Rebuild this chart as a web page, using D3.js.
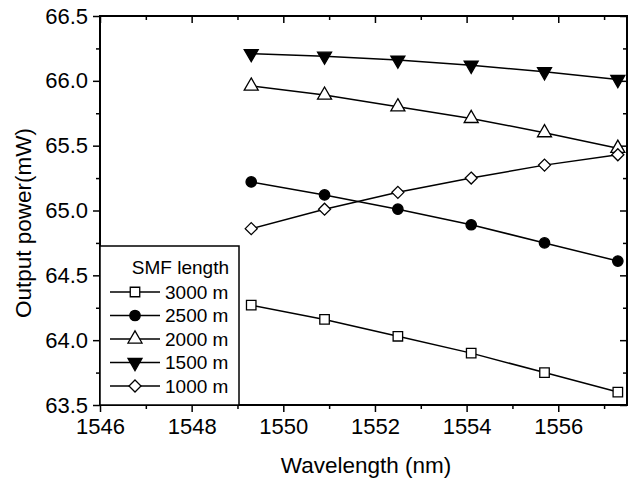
<!DOCTYPE html>
<html>
<head>
<meta charset="utf-8">
<script src="https://cdn.jsdelivr.net/npm/d3@7"></script>
<style>
  body { margin: 0; background: #fff; }
  text { font-family: "Liberation Sans", Arial, sans-serif; fill: #000; }
</style>
</head>
<body>
<svg id="chart" width="629" height="483"></svg>
<script>
// Data
const wavelengths = [1549.3, 1550.9, 1552.5, 1554.1, 1555.7, 1557.3];
const seriesNames = ["3000 m", "2500 m", "2000 m", "1500 m", "1000 m"];
const power3000 = [64.27, 64.16, 64.03, 63.90, 63.75, 63.60];
const power2500 = [65.22, 65.12, 65.01, 64.89, 64.75, 64.61];
const power2000 = [65.96, 65.89, 65.80, 65.71, 65.60, 65.48];
const power1500 = [66.21, 66.19, 66.16, 66.12, 66.07, 66.01];
const power1000 = [64.86, 65.01, 65.14, 65.25, 65.35, 65.43];
const xTicks = [1546, 1548, 1550, 1552, 1554, 1556];
const yTicks = [63.5, 64.0, 64.5, 65.0, 65.5, 66.0, 66.5];

// square turned 45 degrees, as wide as it is tall
const symbolRhomb = {
    draw(ctx, size) {
        const r = Math.sqrt(size / 2);
        ctx.moveTo(0, -r);
        ctx.lineTo(r, 0);
        ctx.lineTo(0, r);
        ctx.lineTo(-r, 0);
        ctx.closePath();
    }
};

const series = [
    {name: seriesNames[0], values: power3000, symbol: d3.symbolSquare, size: 90, fill: "#fff"},
    {name: seriesNames[1], values: power2500, symbol: d3.symbolCircle, size: 85, fill: "#000"},
    {name: seriesNames[2], values: power2000, symbol: d3.symbolTriangle, size: 85, fill: "#fff"},
    {name: seriesNames[3], values: power1500, symbol: d3.symbolTriangle, size: 85, fill: "#000", flip: true},
    {name: seriesNames[4], values: power1000, symbol: symbolRhomb, size: 72, fill: "#fff"}
];

// Layout
const margin = {left: 100, top: 16, right: 2, bottom: 78};
const width = 629, height = 483;
const plotW = width - margin.left - margin.right;
const plotH = height - margin.top - margin.bottom;

const svg = d3.select("#chart");
const g = svg.append("g").attr("transform", `translate(${margin.left},${margin.top})`);

const x = d3.scaleLinear().domain([1546, 1557.5]).range([0, plotW]);
const y = d3.scaleLinear().domain([63.5, 66.5]).range([plotH, 0]);

const line = d3.line().x((d, i) => x(wavelengths[i])).y(d => y(d));

////////// Axes //////////
const xMinor = d3.range(1547, 1558, 2);
const yMinor = d3.range(63.75, 66.5, 0.5);

function styleAxis(sel) {
    sel.select(".domain").remove();
    sel.selectAll("line").attr("stroke", "#000").attr("stroke-width", 1.5);
}

// bottom (outward) + labels
g.append("g").attr("transform", `translate(0,${plotH})`)
    .call(d3.axisBottom(x).tickValues(xTicks).tickFormat(d3.format("d")).tickSize(7).tickPadding(6))
    .call(styleAxis)
    .selectAll("text").style("font-size", "22px").attr("font-family", null);
g.append("g").attr("transform", `translate(0,${plotH})`)
    .call(d3.axisBottom(x).tickValues(xMinor).tickFormat("").tickSize(4))
    .call(styleAxis);

// left (outward) + labels
g.append("g")
    .call(d3.axisLeft(y).tickValues(yTicks).tickFormat(d3.format(".1f")).tickSize(7).tickPadding(5))
    .call(styleAxis)
    .selectAll("text").style("font-size", "22px").attr("font-family", null);
g.append("g")
    .call(d3.axisLeft(y).tickValues(yMinor).tickFormat("").tickSize(4))
    .call(styleAxis);

// top (inward)
g.append("g")
    .call(d3.axisTop(x).tickValues(xTicks).tickFormat("").tickSize(-7))
    .call(styleAxis);
g.append("g")
    .call(d3.axisTop(x).tickValues(xMinor).tickFormat("").tickSize(-4))
    .call(styleAxis);

// right (inward)
g.append("g").attr("transform", `translate(${plotW},0)`)
    .call(d3.axisRight(y).tickValues(yTicks).tickFormat("").tickSize(-7))
    .call(styleAxis);
g.append("g").attr("transform", `translate(${plotW},0)`)
    .call(d3.axisRight(y).tickValues(yMinor).tickFormat("").tickSize(-4))
    .call(styleAxis);

// frame
g.append("rect")
    .attr("width", plotW).attr("height", plotH)
    .attr("fill", "none").attr("stroke", "#000").attr("stroke-width", 2);

////////// Series //////////
series.forEach(s => {
    g.append("path")
        .datum(s.values)
        .attr("d", line)
        .attr("fill", "none")
        .attr("stroke", "#000")
        .attr("stroke-width", 1.5);
});

function drawMarker(sel, s, cx, cy) {
    const sym = d3.symbol().type(s.symbol).size(s.size);
    let tf = `translate(${cx},${cy})`;
    if (s.flip) tf += " rotate(180)";
    sel.append("path")
        .attr("d", sym())
        .attr("transform", tf)
        .attr("fill", s.fill)
        .attr("stroke", "#000")
        .attr("stroke-width", 1.3);
}

series.forEach(s => {
    s.values.forEach((v, i) => drawMarker(g, s, x(wavelengths[i]), y(v)));
});

////////// Legend //////////
const legend = g.append("g");
legend.append("rect")
    .attr("x", 0).attr("y", 230)
    .attr("width", 139).attr("height", plotH - 230)
    .attr("fill", "#fff").attr("stroke", "#000").attr("stroke-width", 1.5);
legend.append("text")
    .attr("x", 129).attr("y", 258)
    .attr("text-anchor", "end")
    .style("font-size", "19px")
    .text("SMF length");
series.forEach((s, i) => {
    const ly = 276 + i * 23.5;
    legend.append("line")
        .attr("x1", 10).attr("x2", 60)
        .attr("y1", ly).attr("y2", ly)
        .attr("stroke", "#000").attr("stroke-width", 1.5);
    drawMarker(legend, s, 35, ly);
    legend.append("text")
        .attr("x", 65).attr("y", ly)
        .attr("dy", "0.36em")
        .style("font-size", "19px")
        .text(s.name);
});

////////// Titles //////////
svg.append("text")
    .attr("x", 366)
    .attr("y", 473)
    .attr("text-anchor", "middle")
    .style("font-size", "22.5px")
    .text("Wavelength (nm)");

svg.append("text")
    .attr("transform", `translate(31,223) rotate(-90)`)
    .attr("text-anchor", "middle")
    .style("font-size", "22.5px")
    .text("Output power(mW)");
</script>
</body>
</html>
